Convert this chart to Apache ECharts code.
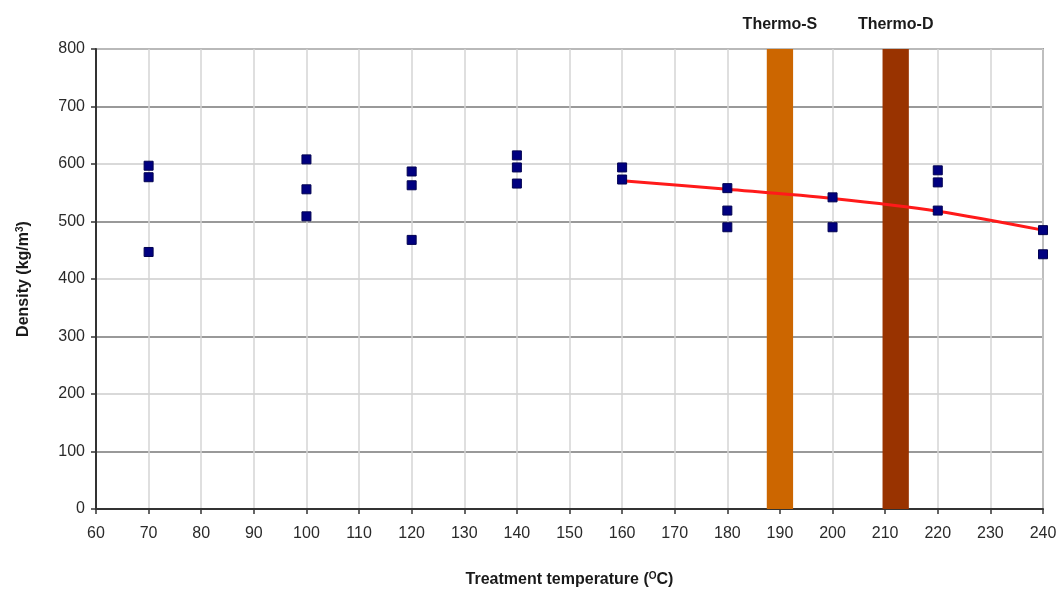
<!DOCTYPE html>
<html>
<head>
<meta charset="utf-8">
<script src="https://cdn.jsdelivr.net/npm/echarts@6/dist/echarts.min.js"></script>
<style>html,body{margin:0;padding:0;background:#fff;}#c{width:1064px;height:593px;}</style>
</head>
<body>
<div id="c"></div>
<script>
// Measured density points: [temperature, density]
const temps = [70,70,70,100,100,100,120,120,120,140,140,140,160,160,180,180,180,200,200,220,220,220,240,240];
const densities = [597,577,447,608,556,509,587,563,468,615,594,566,594,573,558,519,490,542,490,589,568,519,485,443];
// Trend line
const trendTemps = [160,180,200,220,240];
const trendValues = [571,556,540,518,485];
// Treatment bands
const bandNames = ['Thermo-S','Thermo-D'];
const bandStart = [187.5,209.5];
const bandEnd = [192.5,214.5];
const bandColors = ['#CC6600','#993300'];

const pts = temps.map((t,i)=>[t,densities[i]]);
const trend = trendTemps.map((t,i)=>[t,trendValues[i]]);
const areas = bandNames.map((n,i)=>[
  {name:n, xAxis:bandStart[i], itemStyle:{color:bandColors[i],opacity:1}},
  {xAxis:bandEnd[i]}
]);

const chart = echarts.init(document.getElementById('c'));
const font = 'Liberation Sans, Arial, sans-serif';
const rich = {s:{fontSize:10,fontWeight:'bold',color:'#1a1a1a',verticalAlign:'top',padding:[0,0,8,0]}};
chart.setOption({
  animation:false,
  grid:{left:96,right:21,top:49,bottom:82,show:true,borderColor:'#555',borderWidth:1.5,backgroundColor:'transparent'},
  xAxis:{type:'value',min:60,max:240,interval:10,
    name:'Treatment temperature ({s|O}C)',nameLocation:'middle',nameGap:62,
    nameTextStyle:{fontFamily:font,fontSize:16,fontWeight:'bold',color:'#1a1a1a',rich:rich},
    axisLine:{lineStyle:{color:'#333',width:2}},
    axisTick:{show:true,length:5,lineStyle:{color:'#333',width:1.5}},
    axisLabel:{fontFamily:font,fontSize:16,color:'#2a2a2a',margin:17},
    splitLine:{show:true,lineStyle:{color:'#d4d4d4',width:1.5}}
  },
  yAxis:{type:'value',min:0,max:800,interval:100,
    name:'Density (kg/m{s|3})',nameLocation:'middle',nameGap:63,nameRotate:90,
    nameTextStyle:{fontFamily:font,fontSize:16,fontWeight:'bold',color:'#1a1a1a',rich:rich},
    axisLine:{show:true,lineStyle:{color:'#333',width:2}},
    axisTick:{show:true,length:5,lineStyle:{color:'#333',width:1.5}},
    axisLabel:{fontFamily:font,fontSize:16,color:'#2a2a2a',margin:11},
    splitLine:{show:true,lineStyle:{color:['#cccccc','#777777'],width:1.5}}
  },
  series:[
    {type:'line',data:trend,smooth:0.3,symbol:'none',z:2,lineStyle:{color:'#ff1a1a',width:3}},
    {type:'scatter',data:[],z:3,
      markArea:{silent:true,data:areas,
        label:{show:true,position:'top',distance:16,fontFamily:font,fontSize:16,fontWeight:'bold',color:'#1a1a1a'}}},
    {type:'scatter',data:pts,z:5,symbol:'rect',symbolSize:9,
      itemStyle:{color:'#000080',borderColor:'#000050',borderWidth:1,opacity:1}}
  ]
});
</script>
</body>
</html>
